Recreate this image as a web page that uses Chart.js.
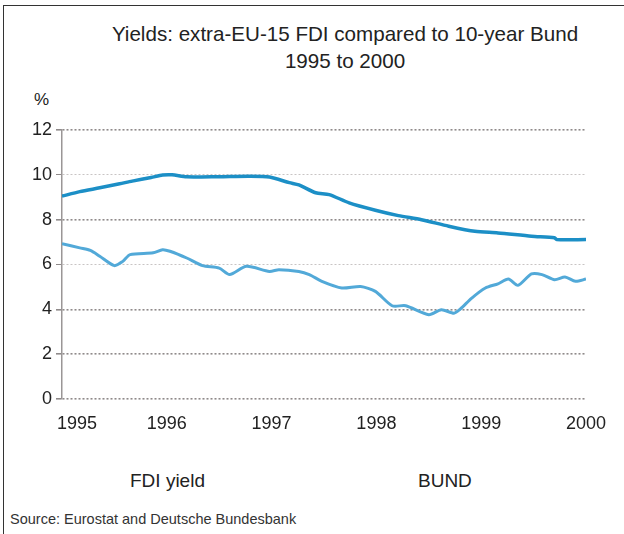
<!DOCTYPE html>
<html lang="en">
<head>
    <meta charset="UTF-8">
    <title>Yields: extra-EU-15 FDI compared to 10-year Bund</title>
    <script src="https://cdn.jsdelivr.net/npm/chart.js"></script>
    <style>
        body { margin: 0; background: #fff; font-family: "Liberation Sans", Arial, sans-serif; }
        #frame { position: absolute; left: 3px; top: 5px; width: 621px; height: 529px;
                 border-top: 1px solid #333; border-left: 1px solid #333; }
        .txt { position: absolute; color: #222; white-space: nowrap; }
        #titulo { left: 0; width: 690px; top: 20px; text-align: center; font-size: 20.6px; line-height: 27px; }
        #pct { left: 34px; top: 90px; font-size: 17px; }
        #leg1 { left: 130px; top: 470px; font-size: 19px; }
        #leg2 { left: 418px; top: 470px; font-size: 19px; }
        #fonte { left: 10px; top: 511px; font-size: 14.5px; color: #333; }
        #box { position: absolute; left: 0; top: 110px; width: 612px; height: 330px; }
    </style>
</head>
<body>
    <div id="frame"></div>
    <div class="txt" id="titulo">Yields: extra-EU-15 FDI compared to 10-year Bund<br>1995 to 2000</div>
    <div class="txt" id="pct">%</div>
    <div id="box"><canvas id="grafico"></canvas></div>
    <div class="txt" id="leg1">FDI yield</div>
    <div class="txt" id="leg2">BUND</div>
    <div class="txt" id="fonte">Source: Eurostat and Deutsche Bundesbank</div>

    <script>
        // dados
        const anosFdi = [1995.0, 1995.17, 1995.36, 1995.55, 1995.67, 1995.85, 1995.96, 1996.05, 1996.19, 1996.5,
                         1996.79, 1996.98, 1997.17, 1997.26, 1997.42, 1997.55, 1997.74, 1997.99, 1998.21, 1998.43,
                         1998.69, 1998.94, 1999.16, 1999.48, 1999.7, 1999.72, 2000.0];
        const fdiYield = [9.05, 9.25, 9.42, 9.6, 9.72, 9.88, 9.99, 10.0, 9.91, 9.92,
                          9.94, 9.9, 9.65, 9.55, 9.2, 9.12, 8.75, 8.42, 8.18, 8.0,
                          7.71, 7.48, 7.41, 7.26, 7.19, 7.11, 7.11];

        const anosBund = [1995.0, 1995.17, 1995.27, 1995.36, 1995.5, 1995.58, 1995.65, 1995.87, 1995.96, 1996.03,
                          1996.19, 1996.34, 1996.5, 1996.6, 1996.76, 1996.98, 1997.07, 1997.26, 1997.36, 1997.48,
                          1997.67, 1997.85, 1997.99, 1998.15, 1998.28, 1998.5, 1998.62, 1998.74, 1998.8, 1998.91,
                          1999.04, 1999.16, 1999.26, 1999.35, 1999.48, 1999.58, 1999.7, 1999.8, 1999.9, 2000.0];
        const bund = [6.93, 6.74, 6.63, 6.37, 5.95, 6.14, 6.44, 6.52, 6.66, 6.59,
                      6.29, 5.95, 5.84, 5.55, 5.92, 5.69, 5.77, 5.69, 5.55, 5.25,
                      4.95, 5.02, 4.8, 4.16, 4.16, 3.76, 3.98, 3.83, 4.01, 4.5,
                      4.95, 5.14, 5.35, 5.07, 5.58, 5.55, 5.32, 5.44, 5.25, 5.35];

        const anosTicks = [1995, 1996, 1997, 1998, 1999, 2000];
        const yTicks = [0, 2, 4, 6, 8, 10, 12];

        function pontos(xs, ys) {
            return xs.map((x, i) => ({ x: x, y: ys[i] }));
        }

        let ctx = document.getElementById('grafico').getContext('2d');
        let grafico = new Chart(ctx, {
            type: 'line',
            data: {
                datasets: [{
                    label: 'FDI yield',
                    data: pontos(anosFdi, fdiYield),
                    borderColor: '#1c8fc6',
                    borderWidth: 3.5,
                    pointRadius: 0,
                    tension: 0.25
                }, {
                    label: 'BUND',
                    data: pontos(anosBund, bund),
                    borderColor: '#52a9d8',
                    borderWidth: 3,
                    pointRadius: 0,
                    tension: 0.25
                }]
            },
            options: {
                responsive: true,
                maintainAspectRatio: false,
                animation: false,
                layout: { padding: { top: 20, right: 24, left: 0, bottom: 0 } },
                plugins: { legend: { display: false }, tooltip: { enabled: false } },
                scales: {
                    x: {
                        type: 'linear',
                        min: 1995, max: 2000,
                        afterBuildTicks: s => { s.ticks = anosTicks.map(v => ({ value: v })); },
                        afterFit: s => { s.height = 41; },
                        grid: { display: false },
                        border: { display: false },
                        ticks: {
                            padding: 6,
                            color: '#222',
                            font: { family: 'Liberation Sans', size: 18 },
                            // o 1995 fica deslocado para a direita no original
                            callback: v => v === 1995 ? '      1995' : String(v)
                        }
                    },
                    y: {
                        min: 0, max: 12,
                        afterBuildTicks: s => { s.ticks = yTicks.map(v => ({ value: v })); },
                        afterFit: s => { s.width = 62; },
                        grid: {
                            color: c => (c.tick.value === 10 || c.tick.value === 6) ? '#c8c4c4' : '#8f8a8a',
                            lineWidth: c => (c.tick.value === 10 || c.tick.value === 6) ? 1 : 1.6,
                            tickLength: 6,
                            tickColor: '#8f8a8a'
                        },
                        border: { display: true, color: '#9a9696', width: 1.5, dash: [2, 2] },
                        ticks: {
                            padding: 4,
                            color: '#222',
                            font: { family: 'Liberation Sans', size: 18 }
                        }
                    }
                }
            }
        });
    </script>
</body>
</html>
